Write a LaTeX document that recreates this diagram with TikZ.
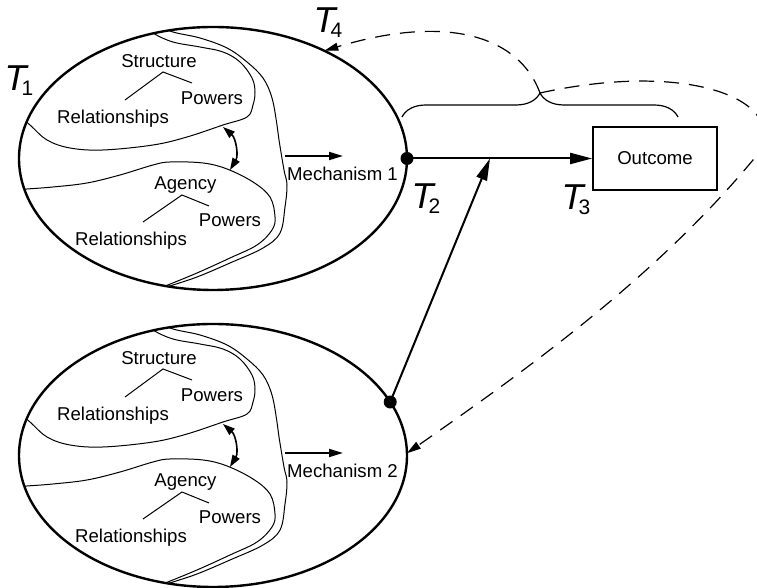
\documentclass[tikz,border=0pt]{standalone}
\usepackage{fontspec}
\setmainfont{Liberation Sans}
\usetikzlibrary{arrows.meta,calc,decorations.pathreplacing}

\tikzset{
  rim/.style={line width=1.2pt},
  thin curve/.style={line width=0.5pt},
  lbl/.style={font=\fontsize{9.3}{11}\selectfont, inner sep=0pt},
  tlbl/.style={inner sep=0pt},
  flow/.style={line width=1pt, -{Triangle[length=11pt,width=5.5pt]}},
  small flow/.style={line width=0.9pt, -{Triangle[length=7pt,width=4pt]}},
  both flow/.style={line width=0.8pt, {Triangle[length=6pt,width=4pt]}-{Triangle[length=6pt,width=4pt]}},
  feedback/.style={line width=0.6pt, dash pattern=on 7.5pt off 5pt, -{Triangle[length=7pt,width=4pt]}},
  dot/.style={circle, fill, inner sep=0pt, minimum size=6.5pt},
}

\def\tsub#1{{\fontsize{18}{18}\selectfont\itshape T}\kern-2.5pt\raisebox{-2.5pt}{\fontsize{10.5}{10.5}\selectfont #1}}

\def\stage(#1)#2{
  \begin{scope}[shift={(#1)}]
    \begin{scope}
      \clip (0,0) ellipse [x radius=194, y radius=131.5];
      % structure region
      \draw[thin curve] plot[smooth, tension=0.6] coordinates {(-200,48) (-183,33.5) (-166,18.5) (-143,10.5) (-110,8.5) (-60,13.5) (-26,21.5) (10,33.5) (34,41.5) (40,53.5) (42,66.5) (39,80.5) (27,96.5) (10,106.5) (-13,111.5) (-40,116.5) (-60,125.5) (-75,138)};
      % agency region
      \draw[thin curve] plot[smooth, tension=0.6] coordinates {(-205,-32) (-186,-30.5) (-160,-28.5) (-126,-24.5) (-93,-16.5) (-60,-6.5) (-43,-3.5) (-10,-4.5) (14,-10.5) (40,-23.5) (57,-38.5) (62,-58.5) (59,-71.5) (44,-86.5) (17,-99.5) (-16,-114.5) (-50,-128.5) (-70,-137)};
      % outer boundary
      \draw[thin curve] plot[smooth, tension=0.6] coordinates {(-60,135) (-40,126.5) (-13,120.5) (14,110.5) (34,96.5) (50,80.5) (59,60.5) (64,33.5) (66,18.5) (71,-11.5) (74,-26.5) (72,-48.5) (67,-74.5) (50,-89.5) (17,-104.5) (-16,-118.5) (-46,-128.5) (-66,-136)};
    \end{scope}
    \draw[rim] (0,0) ellipse [x radius=194, y radius=131.5];
    \node[lbl] (struct#2) at (-54,97.5) {Structure};
    \node[lbl] (spow#2) at (-1,60) {Powers};
    \node[lbl] (srel#2) at (-100,39.5) {Relationships};
    \draw[thin curve] (-88,58.5) -- (-50,86.5) -- (-21,75.5);
    \node[lbl] (agency#2) at (-27.5,-27) {Agency};
    \node[lbl] (apow#2) at (17,-61.5) {Powers};
    \node[lbl] (arel#2) at (-82,-82) {Relationships};
    \draw[thin curve] (-70,-63.5) -- (-31,-36.5) -- (-4,-47.5);
    \draw[both flow] (10,31.5) to[bend left=40] (17,-11.5);
    \node[lbl] (mech#2) at (129.5,-15) {Mechanism #2};
    \draw[small flow] (72,2.5) -- (130,2.5);
  \end{scope}
}

\begin{document}
\begin{tikzpicture}[x=0.5pt, y=0.5pt]
  \useasboundingbox (0,0) rectangle (757,588);

  \coordinate (stage1) at (213,429.5);
  \coordinate (stage2) at (213,132.5);
  \stage(stage1){1}
  \stage(stage2){2}

  \coordinate (m1) at ($(stage1)+(0:194 and 131.5)$);
  \coordinate (m2) at ($(stage2)+(24:194 and 131.5)$);
  \node[dot] (d1) at (m1) {};
  \node[dot] (d2) at (m2) {};

  \node[draw, line width=0.8pt, minimum width=62pt, minimum height=31.5pt, lbl] (outcome) at (655,429.5) {Outcome};
  \coordinate (join) at (490,429.5);
  \draw[flow] (d1.center) -- (outcome.west);
  \draw[flow] (d2.center) -- (join);

  % brace over the path
  \coordinate (bl) at (402,471);
  \coordinate (br) at (678,471);
  \draw[line width=0.6pt, decorate, decoration={brace, amplitude=12pt}] (bl) -- (br);
  \coordinate (btip) at ($(bl)!0.5!(br)+(0,24)$);

  \node[tlbl] (T1) at (19,507) {\tsub{1}};
  \node[tlbl] (T2) at (426,389) {\tsub{2}};
  \node[tlbl] (T3) at (576,388) {\tsub{3}};
  \node[tlbl] (T4) at (328,565) {\tsub{4}};

  % feedback loops
  \coordinate (t4end) at ($(stage1)+(55:194 and 131.5)$);
  \coordinate (m2in) at ($(stage2)+(1:194 and 131.5)$);
  \coordinate (far) at (753,428);
  \draw[feedback] (btip) .. controls +(-20,55) and +(126,38) .. (t4end);
  \draw[feedback] (btip) .. controls +(160,35) and +(45,54) .. (far) .. controls +(-96,-115.5) and +(123,85.5) .. (m2in);
\end{tikzpicture}
\end{document}
